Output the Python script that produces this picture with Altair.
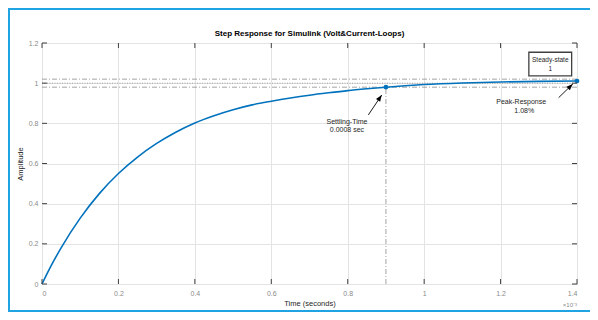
import altair as alt
import pandas as pd

# --- data ---
t_ms = [0, 0.025, 0.05, 0.1, 0.15, 0.2, 0.25, 0.3, 0.35, 0.4, 0.45,
        0.5, 0.55, 0.6, 0.65, 0.7, 0.75, 0.8, 0.85, 0.9, 0.95, 1.0, 1.1, 1.2, 1.3, 1.4]
amp = [0, 0.095, 0.18, 0.328, 0.45, 0.55, 0.632, 0.7, 0.756, 0.802, 0.838,
       0.868, 0.892, 0.91, 0.926, 0.94, 0.952, 0.963, 0.972, 0.98, 0.987, 0.993, 1.001, 1.006, 1.009, 1.011]

x_ticks = [0, 0.2, 0.4, 0.6, 0.8, 1.0, 1.2, 1.4]
y_ticks = [0, 0.2, 0.4, 0.6, 0.8, 1.0, 1.2]

settle_t, settle_a = 0.9, 0.98
peak_t, peak_a = 1.4, 1.0108
band_hi, band_lo, steady = 1.02, 0.98, 1.0

# arrows: tail -> head
arrow_tail_t = [0.854, 1.352]
arrow_tail_a = [0.842, 0.928]
arrow_head_t = [0.889, 1.389]
arrow_head_a = [0.941, 0.996]
arrow_angle = [34, 46]

notes_t = [0.798, 0.798, 1.254, 1.262]
notes_a = [0.808, 0.766, 0.905, 0.863]
notes_txt = ["Settling-Time", "0.0008 sec", "Peak-Response", "1.08%"]

box_t = [1.274, 1.386]
box_a = [1.036, 1.154]
box_txt = ["Steady-state", "1"]
box_txt_a = [1.116, 1.071]

title_txt = "Step Response for Simulink (Volt&Current-Loops)"

W, H = 535, 241
FONT = "Liberation Sans"

xs = alt.Scale(domain=[0, 1.4], nice=False, zero=False)
ys = alt.Scale(domain=[0, 1.2], nice=False, zero=False)

curve_df = pd.DataFrame({"t": t_ms, "a": amp})

base_x_axis = alt.Axis(values=x_ticks, format="~g", grid=True, gridColor="#e3e3e3",
                       ticks=False, tickSize=0, domain=False, labelFontSize=7,
                       labelColor="#8a8a8a", labelFont=FONT, labelPadding=5,
                       title="Time (seconds)", titleFontSize=7.5, titleFont=FONT,
                       titleFontWeight="normal", titleColor="#262626", titlePadding=3)
base_y_axis = alt.Axis(values=y_ticks, format="~g", grid=True, gridColor="#e3e3e3",
                       ticks=False, tickSize=0, domain=False, labelFontSize=7,
                       labelColor="#8a8a8a", labelFont=FONT, labelPadding=4,
                       title="Amplitude", titleFontSize=7.5, titleFont=FONT,
                       titleFontWeight="normal", titleColor="#262626", titlePadding=4)

grid = alt.Chart(curve_df).mark_line(opacity=0).encode(
    x=alt.X("t:Q", scale=xs, axis=base_x_axis),
    y=alt.Y("a:Q", scale=ys, axis=base_y_axis),
)

hl_df = pd.DataFrame({"y": [band_hi, band_lo]})
band_lines = alt.Chart(hl_df).mark_rule(color="#8c8c8c", strokeWidth=0.8,
                                        strokeDash=[5, 2, 1, 2]).encode(
    y=alt.Y("y:Q", scale=ys), x=alt.value(0), x2=alt.value(W))
steady_line = alt.Chart(pd.DataFrame({"y": [steady]})).mark_rule(
    color="#8c8c8c", strokeWidth=0.8, strokeDash=[1, 1.5]).encode(
    y=alt.Y("y:Q", scale=ys), x=alt.value(0), x2=alt.value(W))
vline = alt.Chart(pd.DataFrame({"t": [settle_t], "a0": [0], "a1": [settle_a]})).mark_rule(
    color="#8c8c8c", strokeWidth=0.8, strokeDash=[5, 2, 1, 2]).encode(
    x=alt.X("t:Q", scale=xs), y=alt.Y("a0:Q", scale=ys), y2="a1:Q")

curve = alt.Chart(curve_df).mark_line(color="#0072BD", strokeWidth=1.6,
                                      interpolate="monotone").encode(
    x=alt.X("t:Q", scale=xs), y=alt.Y("a:Q", scale=ys))

pts = alt.Chart(pd.DataFrame({"t": [settle_t, peak_t], "a": [settle_a, peak_a]})).mark_point(
    filled=True, color="#0072BD", size=22, opacity=1, shape="circle").encode(
    x=alt.X("t:Q", scale=xs), y=alt.Y("a:Q", scale=ys))

arr_df = pd.DataFrame({"t0": arrow_tail_t, "a0": arrow_tail_a,
                       "t1": arrow_head_t, "a1": arrow_head_a, "ang": arrow_angle})
arrow_lines = alt.Chart(arr_df).mark_rule(color="#000000", strokeWidth=0.9).encode(
    x=alt.X("t0:Q", scale=xs), y=alt.Y("a0:Q", scale=ys), x2="t1:Q", y2="a1:Q")
arrow_heads = alt.Chart(arr_df).mark_point(
    shape="M0,0 L-0.38,1 L0.38,1 Z", filled=True, color="#000000", size=170, opacity=1).encode(
    x=alt.X("t1:Q", scale=xs), y=alt.Y("a1:Q", scale=ys), angle=alt.Angle("ang:Q", scale=None))

notes = alt.Chart(pd.DataFrame({"t": notes_t, "a": notes_a, "s": notes_txt})).mark_text(
    fontSize=7, font=FONT, color="#262626", align="center", baseline="middle").encode(
    x=alt.X("t:Q", scale=xs), y=alt.Y("a:Q", scale=ys), text="s:N")

box = alt.Chart(pd.DataFrame({"t0": [box_t[0]], "t1": [box_t[1]],
                              "a0": [box_a[0]], "a1": [box_a[1]]})).mark_rect(
    fill="white", stroke="#404040", strokeWidth=1.3).encode(
    x=alt.X("t0:Q", scale=xs), x2="t1:Q", y=alt.Y("a0:Q", scale=ys), y2="a1:Q")
box_text = alt.Chart(pd.DataFrame({"a": box_txt_a, "s": box_txt})).mark_text(
    fontSize=6.5, font=FONT, color="#262626", align="center", baseline="middle").encode(
    x=alt.value((box_t[0] + box_t[1]) / 2 / 1.4 * W), y=alt.Y("a:Q", scale=ys), text="s:N")

# inward ticks on all four sides
xt_df = pd.DataFrame({"t": x_ticks})
yt_df = pd.DataFrame({"a": y_ticks})
tick_col = "#404040"
ticks_bottom = alt.Chart(xt_df).mark_rule(color=tick_col, strokeWidth=1).encode(
    x=alt.X("t:Q", scale=xs), y=alt.value(H), y2=alt.value(H - 5))
ticks_top = alt.Chart(xt_df).mark_rule(color=tick_col, strokeWidth=1).encode(
    x=alt.X("t:Q", scale=xs), y=alt.value(0), y2=alt.value(5))
ticks_left = alt.Chart(yt_df).mark_rule(color=tick_col, strokeWidth=1).encode(
    y=alt.Y("a:Q", scale=ys), x=alt.value(0), x2=alt.value(5))
ticks_right = alt.Chart(yt_df).mark_rule(color=tick_col, strokeWidth=1).encode(
    y=alt.Y("a:Q", scale=ys), x=alt.value(W), x2=alt.value(W - 5))

exp_label = alt.Chart(pd.DataFrame({"t": [1.4], "s": ["×10⁻³"]})).mark_text(
    fontSize=6, font=FONT, color="#8a8a8a", align="right", baseline="middle", dy=21).encode(
    x=alt.X("t:Q", scale=xs), y=alt.value(H), text="s:N")

title = alt.Chart(pd.DataFrame({"s": [title_txt]})).mark_text(
    fontSize=8, fontWeight="bold", font=FONT, color="#000000", align="center",
    baseline="middle").encode(x=alt.value(W / 2), y=alt.value(-9), text="s:N")

# outer blue frame (left, top, bottom edges only; the right edge lies off the picture)
FR = "#1fa3e3"
frame_df = pd.DataFrame({"k": [0]})
frame_left = alt.Chart(frame_df).mark_rule(color=FR, strokeWidth=2).encode(
    x=alt.value(-33), x2=alt.value(-33), y=alt.value(-34), y2=alt.value(H + 27))
frame_top = alt.Chart(frame_df).mark_rule(color=FR, strokeWidth=2).encode(
    x=alt.value(-34), x2=alt.value(W + 13), y=alt.value(-34), y2=alt.value(-34))
frame_bottom = alt.Chart(frame_df).mark_rule(color=FR, strokeWidth=2).encode(
    x=alt.value(-34), x2=alt.value(W + 13), y=alt.value(H + 27), y2=alt.value(H + 27))

chart = alt.layer(
    grid, band_lines, steady_line, vline, curve, pts, arrow_lines, arrow_heads,
    box, box_text, notes, ticks_bottom, ticks_top, ticks_left, ticks_right, exp_label, title,
    frame_left, frame_top, frame_bottom
).properties(
    width=W, height=H,
    padding={"left": 34, "top": 35, "right": 13, "bottom": 28},
    autosize=alt.AutoSizeParams(type="none"),
).configure_view(stroke="#5a5a5a", strokeWidth=1).configure(background="white")

chart.save("out.html", embed_options={"renderer": "svg", "actions": False})
